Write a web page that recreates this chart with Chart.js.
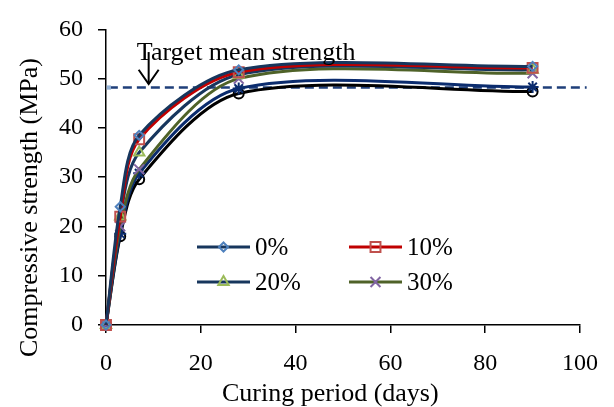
<!DOCTYPE html>
<html><head><meta charset="utf-8">
<script src="https://cdn.jsdelivr.net/npm/chart.js@4.4.0/dist/chart.umd.min.js"></script>
<style>html,body{margin:0;padding:0;background:#fff;}#wrap{width:614px;height:407px;position:relative;}</style>
</head><body><div id="wrap"><canvas id="c"></canvas></div>
<script>
// ---- data ----
const days = [0, 3, 7, 28, 90];
const seriesNames = ['0%', '10%', '20%', '30%', '40%', '50%'];
const s0  = [0, 24.0, 38.5, 51.8, 52.5];
const s10 = [0, 22.0, 37.7, 51.3, 52.2];
const s20 = [0, 22.0, 35.0, 50.8, 51.8];
const s30 = [0, 20.0, 31.6, 50.0, 51.1];
const s40 = [0, 18.5, 30.8, 48.0, 48.3];
const s50 = [0, 18.0, 29.6, 47.0, 47.4];
const targetStrength = 48.2;
const targetSpan = [0.6, 101.4];
const annotationText = 'Target mean strength';
const xTickValues = [0, 20, 40, 60, 80, 100];
const yTickValues = [0, 10, 20, 30, 40, 50, 60];
const xTitle = 'Curing period (days)';
const yTitle = 'Compressive strength (MPa)';
const legendCount = 4;

const FONT = '"Liberation Serif", "Times New Roman", serif';
const pts = arr => days.map((d, i) => ({x: d, y: arr[i]}));

const styles = [
  {line:'#17365D', mk:'#4F81BD', ps:'rectRot', r:4.5},
  {line:'#C00000', mk:'#C0504D', ps:'rect', r:7},
  {line:'#17365D', mk:'#9BBB59', ps:'triangle', r:6},
  {line:'#4F6228', mk:'#8064A2', ps:'crossRot', r:7},
  {line:'#0B2C6E', mk:'#0B2C6E', ps:'star', r:6},
  {line:'#000000', mk:'#000000', ps:'circle', r:5},
];
const values = [s0, s10, s20, s30, s40, s50];

const datasets = values.map((v, i) => ({
  label: seriesNames[i],
  data: pts(v),
  borderColor: styles[i].line,
  borderWidth: 3,
  tension: 0.3,
  pointStyle: styles[i].ps,
  pointRadius: styles[i].r,
  pointBorderColor: styles[i].mk,
  pointBackgroundColor: 'rgba(255,255,255,0)',
  pointBorderWidth: 2,
  clip: false,
}));
datasets.push({
  label: 'target',
  data: targetSpan.map(x => ({x, y: targetStrength})),
  borderColor: '#1F3F7A',
  borderWidth: 2.5,
  borderDash: [9, 5],
  tension: 0,
  pointStyle: 'rect',
  pointRadius: 3,
  pointBorderWidth: 0,
  pointBackgroundColor: '#95B3D7',
  pointBorderColor: '#95B3D7',
  clip: false,
});

function mark(ctx, st, x, y) {
  ctx.save();
  ctx.strokeStyle = st.mk; ctx.fillStyle = 'rgba(255,255,255,0)'; ctx.lineWidth = 2;
  Chart.helpers.drawPoint(ctx, {pointStyle: st.ps, radius: st.r, borderWidth: 2, rotation: 0}, x, y);
  ctx.restore();
}

const extras = {
  id: 'extras',
  afterDraw(chart) {
    const ctx = chart.ctx, xs = chart.scales.x, ys = chart.scales.y, ca = chart.chartArea;
    // axis titles
    ctx.save();
    ctx.fillStyle = '#000';
    ctx.font = '26px ' + FONT;
    ctx.textBaseline = 'alphabetic';
    ctx.textAlign = 'left';
    ctx.fillText(xTitle, 222, 401);
    ctx.translate(37, 357);
    ctx.rotate(-Math.PI / 2);
    ctx.fillText(yTitle, 0, 0);
    ctx.restore();
    // annotation text + arrow
    ctx.save();
    ctx.fillStyle = '#000';
    ctx.font = '26px ' + FONT;
    ctx.textBaseline = 'alphabetic';
    ctx.textAlign = 'left';
    ctx.fillText(annotationText, xs.getPixelForValue(6.5), ys.getPixelForValue(53.8));
    const ax = xs.getPixelForValue(9);
    const yTop = ys.getPixelForValue(55.4), yTip = ys.getPixelForValue(48.9), yArm = ys.getPixelForValue(51.8);
    ctx.strokeStyle = '#000'; ctx.lineWidth = 2;
    ctx.beginPath(); ctx.moveTo(ax, yTop); ctx.lineTo(ax, yTip); ctx.stroke();
    ctx.beginPath(); ctx.moveTo(ax - 10, yArm); ctx.lineTo(ax, yTip); ctx.lineTo(ax + 10, yArm); ctx.stroke();
    ctx.restore();
    // legend
    const colX = [ca.left + 91, ca.left + 243];
    const rowY = [247, 282];
    ctx.save();
    ctx.font = '25px ' + FONT;
    ctx.textBaseline = 'middle';
    ctx.textAlign = 'left';
    for (let i = 0; i < legendCount; i++) {
      const cx = colX[i % 2], cy = rowY[Math.floor(i / 2)];
      const st = styles[i];
      ctx.strokeStyle = st.line; ctx.lineWidth = 3;
      ctx.beginPath(); ctx.moveTo(cx, cy); ctx.lineTo(cx + 53, cy); ctx.stroke();
      mark(ctx, st, cx + 26.5, cy);
      ctx.fillStyle = '#000';
      ctx.fillText(seriesNames[i], cx + 58, cy + 1);
    }
    ctx.restore();
  }
};

new Chart(document.getElementById('c'), {
  type: 'line',
  data: {datasets},
  plugins: [extras],
  options: {
    responsive: true,
    maintainAspectRatio: false,
    animation: false,
    layout: {padding: {top: 18, right: 30, left: 0, bottom: 0}},
    plugins: {legend: {display: false}, tooltip: {enabled: false}},
    scales: {
      x: {
        type: 'linear', min: 0, max: 100,
        afterFit: s => { s.height = 82; },
        afterBuildTicks: s => { s.ticks = xTickValues.map(v => ({value: v})); },
        border: {color: '#000', width: 1.5},
        grid: {drawOnChartArea: false, drawTicks: true, tickLength: 8, color: '#000', lineWidth: 1.5},
        ticks: {color: '#000', font: {family: FONT, size: 24}, padding: 16, maxRotation: 0},
        title: {display: false}
      },
      y: {
        type: 'linear', min: 0, max: 60,
        afterFit: s => { s.width = 106; },
        afterBuildTicks: s => { s.ticks = yTickValues.map(v => ({value: v})); },
        border: {color: '#000', width: 1.5},
        grid: {drawOnChartArea: false, drawTicks: true, tickLength: 8, color: '#000', lineWidth: 1.5},
        ticks: {color: '#000', font: {family: FONT, size: 24}, padding: 15},
        title: {display: false}
      }
    }
  }
});
</script></body></html>
